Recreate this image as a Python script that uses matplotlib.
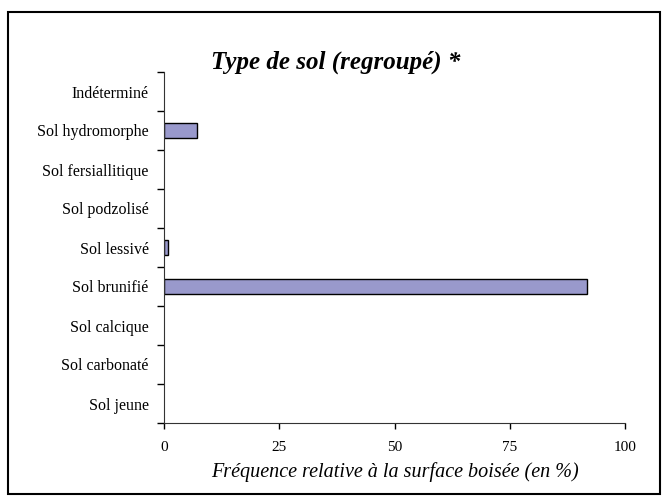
import matplotlib.pyplot as plt
import numpy as np
from matplotlib.patches import Rectangle

categories = ['Sol jeune', 'Sol carbonaté', 'Sol calcique', 'Sol brunifié',
              'Sol lessivé', 'Sol podzolisé', 'Sol fersiallitique',
              'Sol hydromorphe', 'Indéterminé']
values = [0, 0, 0, 91.8, 0.8, 0, 0, 7.2, 0]
xticks = [0, 25, 50, 75, 100]

plt.rcParams['font.family'] = ['Liberation Serif', 'DejaVu Serif']

fig = plt.figure(figsize=(6.68, 5), dpi=100)
ax = fig.add_axes([164/668, 1 - 423/500, (625 - 164)/668, (423 - 72)/500])

y = np.arange(len(categories))
edges = ['black' if v > 0 else 'none' for v in values]
ax.barh(y, values, height=0.4, color='#9999cc', edgecolor=edges, linewidth=1)

ax.set_xlim(0, 100)
ax.set_ylim(-0.5, len(categories) - 0.5)
ax.set_xticks(xticks)
ax.set_xticklabels([str(t) for t in xticks], fontsize=11)
ax.tick_params(axis='x', length=4, width=1, pad=9)

# ticks between categories, labels at centres
ax.set_yticks(np.arange(len(categories) + 1) - 0.5)
ax.set_yticklabels([])
ax.tick_params(axis='y', which='major', length=5, width=1)
ax.set_yticks(y, minor=True)
ax.set_yticklabels(categories, minor=True, fontsize=11.5)
ax.tick_params(axis='y', which='minor', length=0, pad=11)

for s in ['top', 'right']:
    ax.spines[s].set_visible(False)
ax.spines['left'].set_color('#333333')
ax.spines['bottom'].set_color('#333333')

ax.set_xlabel('Fréquence relative à la surface boisée (en %)',
              fontsize=14.5, style='italic', labelpad=6)

fig.text(0.502, 0.876, 'Type de sol (regroupé) *', fontsize=18,
         weight='bold', style='italic', ha='center', va='center')

fig.patches.append(Rectangle((8/668, 1 - 494/500), (660 - 8)/668, (494 - 12)/500,
                             transform=fig.transFigure, fill=False,
                             edgecolor='black', linewidth=1.5))

fig.savefig('out.png', dpi=100)
